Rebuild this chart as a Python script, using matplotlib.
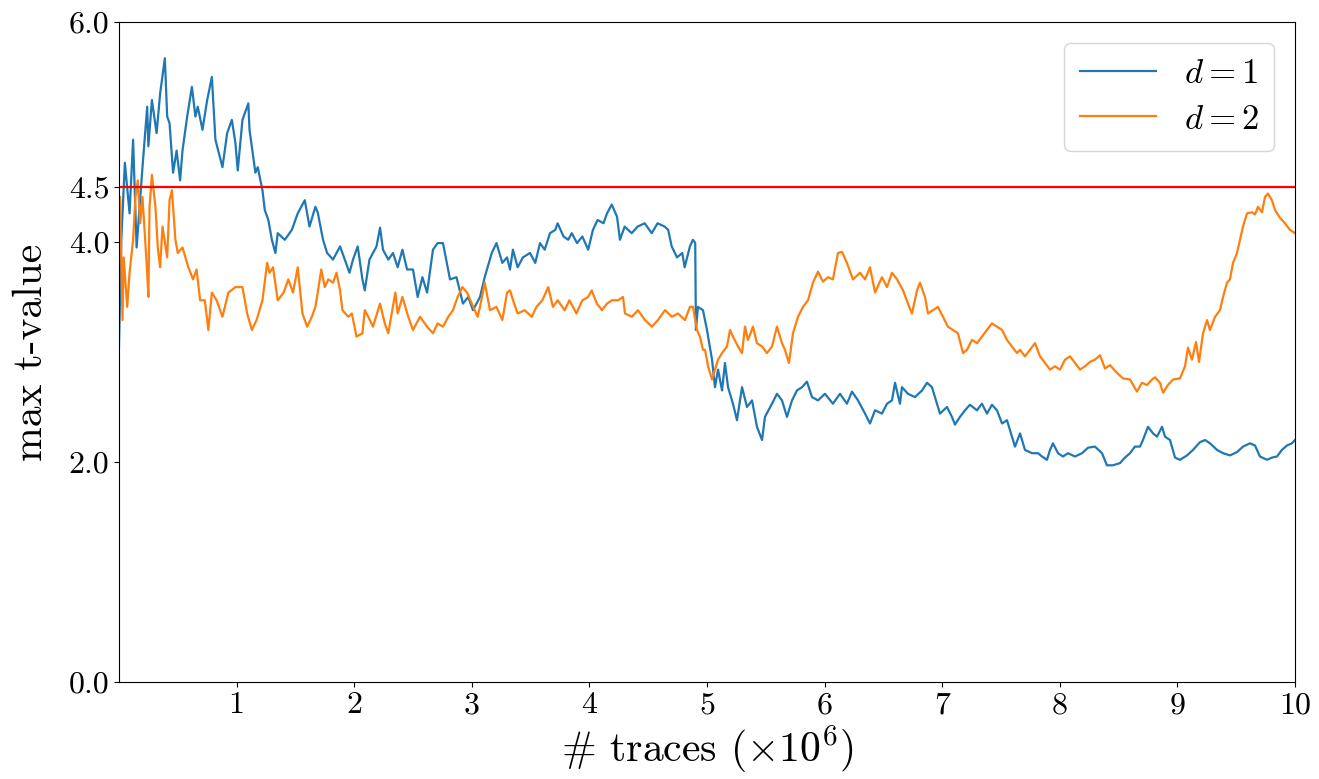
import matplotlib
matplotlib.use("Agg")
import matplotlib.pyplot as plt
from matplotlib.ticker import FormatStrFormatter

plt.rcParams["font.family"] = "serif"
plt.rcParams["font.serif"] = ["cmr10"]
plt.rcParams["mathtext.fontset"] = "cm"
plt.rcParams["axes.unicode_minus"] = False
plt.rcParams["axes.formatter.use_mathtext"] = True

# number of traces (x 10^6) and max t-value for first-order test (d = 1)
traces_d1 = [
    0.00, 0.02, 0.05, 0.09, 0.12, 0.15, 0.20, 0.24, 0.25, 0.28, 0.32, 0.35, 0.39, 0.41,
    0.43, 0.46, 0.49, 0.52, 0.54, 0.58, 0.62, 0.65, 0.67, 0.71, 0.75, 0.79, 0.82, 0.88,
    0.92, 0.96, 0.99, 1.01, 1.05, 1.10, 1.11, 1.16, 1.18, 1.22, 1.24, 1.27, 1.30, 1.33,
    1.35, 1.41, 1.47, 1.52, 1.58, 1.62, 1.67, 1.69, 1.735, 1.77, 1.82, 1.88, 1.92, 1.96,
    1.99, 2.03, 2.07, 2.09, 2.13, 2.19, 2.22, 2.245, 2.29, 2.33, 2.37, 2.41, 2.45, 2.50,
    2.54, 2.58, 2.62, 2.67, 2.71, 2.755, 2.815, 2.87, 2.925, 2.97, 3.01, 3.07, 3.11, 3.17,
    3.21, 3.26, 3.30, 3.325, 3.35, 3.39, 3.435, 3.495, 3.54, 3.58, 3.62, 3.665, 3.71, 3.73,
    3.78, 3.82, 3.85, 3.895, 3.94, 3.99, 4.03, 4.07, 4.12, 4.15, 4.19, 4.235, 4.26, 4.30,
    4.36, 4.41, 4.47, 4.53, 4.58, 4.64, 4.67, 4.70, 4.745, 4.79, 4.81, 4.855, 4.88, 4.900,
    4.906, 4.923, 4.966, 5.00, 5.043, 5.068, 5.094, 5.128, 5.153, 5.179, 5.221, 5.255,
    5.298, 5.34, 5.383, 5.425, 5.468, 5.493, 5.553, 5.595, 5.638, 5.68, 5.723, 5.765,
    5.808, 5.85, 5.893, 5.944, 6.003, 6.071, 6.131, 6.19, 6.233, 6.284, 6.344, 6.386,
    6.429, 6.488, 6.531, 6.573, 6.599, 6.641, 6.658, 6.709, 6.769, 6.828, 6.871, 6.913,
    6.956, 6.981, 7.041, 7.083, 7.109, 7.151, 7.194, 7.236, 7.296, 7.338, 7.381, 7.423,
    7.466, 7.509, 7.551, 7.594, 7.619, 7.662, 7.704, 7.764, 7.815, 7.849, 7.891, 7.917,
    7.942, 7.985, 8.027, 8.07, 8.129, 8.189, 8.24, 8.299, 8.359, 8.401, 8.452, 8.512,
    8.554, 8.597, 8.639, 8.682, 8.707, 8.75, 8.793, 8.827, 8.869, 8.895, 8.937, 8.98,
    9.022, 9.082, 9.133, 9.192, 9.235, 9.277, 9.337, 9.388, 9.447, 9.507, 9.558, 9.617,
    9.66, 9.702, 9.762, 9.804, 9.847, 9.889, 9.932, 9.974, 10.0,
]
tmax_d1 = [
    3.05, 4.02, 4.72, 4.26, 4.93, 3.95, 4.68, 5.23, 4.87, 5.29, 4.99, 5.35, 5.67, 5.14,
    5.08, 4.63, 4.83, 4.56, 4.83, 5.14, 5.41, 5.14, 5.23, 5.02, 5.29, 5.50, 4.93, 4.68,
    4.99, 5.11, 4.90, 4.65, 5.11, 5.26, 5.02, 4.63, 4.68, 4.47, 4.29, 4.20, 4.02, 3.90,
    4.08, 4.02, 4.11, 4.26, 4.38, 4.14, 4.32, 4.27, 4.02, 3.90, 3.84, 3.96, 3.84, 3.72,
    3.84, 3.96, 3.66, 3.56, 3.84, 3.96, 4.13, 3.93, 3.84, 3.90, 3.77, 3.93, 3.75, 3.75,
    3.50, 3.68, 3.54, 3.93, 3.99, 3.99, 3.66, 3.68, 3.44, 3.50, 3.38, 3.50, 3.68, 3.90,
    3.99, 3.81, 3.86, 3.75, 3.93, 3.77, 3.86, 3.90, 3.81, 3.99, 3.93, 4.08, 4.11, 4.17,
    4.05, 4.02, 4.08, 3.99, 4.05, 3.93, 4.11, 4.20, 4.17, 4.26, 4.34, 4.23, 4.02, 4.14,
    4.08, 4.14, 4.17, 4.08, 4.17, 4.14, 4.11, 3.96, 3.86, 3.90, 3.77, 3.96, 4.02, 3.99,
    3.20, 3.41, 3.38, 3.20, 2.93, 2.68, 2.84, 2.65, 2.90, 2.68, 2.53, 2.38,
    2.68, 2.50, 2.56, 2.32, 2.20, 2.41, 2.53, 2.62, 2.56, 2.41, 2.56, 2.65,
    2.68, 2.73, 2.59, 2.56, 2.62, 2.53, 2.62, 2.53, 2.64, 2.56, 2.44, 2.35,
    2.47, 2.44, 2.53, 2.56, 2.72, 2.53, 2.68, 2.62, 2.59, 2.65, 2.72, 2.68,
    2.53, 2.44, 2.50, 2.41, 2.34, 2.41, 2.47, 2.52, 2.47, 2.53, 2.44, 2.52,
    2.47, 2.35, 2.38, 2.23, 2.14, 2.26, 2.11, 2.08, 2.08, 2.05, 2.02, 2.11,
    2.17, 2.08, 2.05, 2.08, 2.05, 2.08, 2.13, 2.14, 2.08, 1.97, 1.97, 1.99,
    2.04, 2.08, 2.14, 2.14, 2.20, 2.32, 2.26, 2.23, 2.32, 2.23, 2.20, 2.04,
    2.02, 2.06, 2.11, 2.18, 2.20, 2.17, 2.11, 2.08, 2.06, 2.09, 2.14, 2.17,
    2.15, 2.05, 2.02, 2.04, 2.05, 2.11, 2.15, 2.17, 2.20,
]

# number of traces (x 10^6) and max t-value for second-order test (d = 2)
traces_d2 = [
    0.00, 0.01, 0.03, 0.04, 0.07, 0.09, 0.12, 0.14, 0.16, 0.18, 0.20, 0.24, 0.25, 0.26,
    0.28, 0.31, 0.33, 0.35, 0.37, 0.41, 0.43, 0.45, 0.48, 0.50, 0.54, 0.59, 0.63, 0.66,
    0.69, 0.73, 0.76, 0.79, 0.83, 0.88, 0.93, 0.99, 1.05, 1.09, 1.13, 1.17, 1.22, 1.26,
    1.28, 1.31, 1.35, 1.40, 1.44, 1.48, 1.52, 1.56, 1.60, 1.64, 1.67, 1.69, 1.72, 1.75,
    1.78, 1.82, 1.85, 1.88, 1.90, 1.95, 1.98, 2.02, 2.07, 2.09, 2.12, 2.16, 2.22, 2.26,
    2.29, 2.35, 2.37, 2.41, 2.46, 2.50, 2.56, 2.62, 2.67, 2.71, 2.755, 2.80, 2.84, 2.88,
    2.92, 2.96, 3.00, 3.05, 3.07, 3.11, 3.155, 3.21, 3.26, 3.30, 3.325, 3.36, 3.39, 3.45,
    3.51, 3.55, 3.60, 3.65, 3.69, 3.73, 3.79, 3.83, 3.89, 3.94, 3.99, 4.02, 4.064, 4.107,
    4.15, 4.192, 4.243, 4.286, 4.303, 4.362, 4.413, 4.473, 4.532, 4.583, 4.643, 4.702,
    4.753, 4.813, 4.855, 4.881, 4.915, 4.94, 4.966, 4.983, 5.009, 5.043, 5.068, 5.094,
    5.128, 5.17, 5.196, 5.221, 5.264, 5.298, 5.323, 5.349, 5.391, 5.425, 5.468, 5.51,
    5.553, 5.595, 5.638, 5.663, 5.697, 5.731, 5.774, 5.816, 5.859, 5.901, 5.944, 5.986,
    6.029, 6.071, 6.114, 6.148, 6.19, 6.241, 6.301, 6.344, 6.386, 6.429, 6.488, 6.531,
    6.573, 6.616, 6.667, 6.709, 6.743, 6.786, 6.811, 6.854, 6.879, 6.922, 6.964, 7.007,
    7.049, 7.092, 7.134, 7.177, 7.211, 7.253, 7.296, 7.338, 7.381, 7.423, 7.466, 7.509,
    7.551, 7.594, 7.636, 7.662, 7.704, 7.747, 7.789, 7.832, 7.874, 7.917, 7.959, 8.002,
    8.044, 8.087, 8.129, 8.172, 8.214, 8.257, 8.299, 8.342, 8.384, 8.427, 8.486, 8.537,
    8.597, 8.656, 8.699, 8.741, 8.784, 8.81, 8.852, 8.878, 8.92, 8.963, 9.022, 9.065,
    9.09, 9.124, 9.158, 9.184, 9.218, 9.252, 9.277, 9.32, 9.362, 9.388, 9.422, 9.447,
    9.473, 9.507, 9.532, 9.558, 9.592, 9.634, 9.66, 9.685, 9.719, 9.745, 9.77, 9.804,
    9.83, 9.872, 9.915, 9.957, 10.0,
]
tmax_d2 = [
    3.90, 4.41, 3.29, 3.86, 3.41, 3.72, 4.02, 4.41, 4.56, 4.17, 4.41, 3.72, 3.50, 4.32,
    4.61, 4.32, 3.95, 3.77, 4.14, 3.86, 4.38, 4.47, 4.02, 3.90, 3.95, 3.77, 3.66, 3.75,
    3.47, 3.47, 3.20, 3.54, 3.47, 3.32, 3.54, 3.59, 3.59, 3.35, 3.20, 3.29, 3.47, 3.81,
    3.72, 3.77, 3.47, 3.54, 3.66, 3.54, 3.77, 3.35, 3.23, 3.32, 3.41, 3.54, 3.75, 3.59,
    3.66, 3.63, 3.72, 3.56, 3.38, 3.32, 3.35, 3.14, 3.17, 3.38, 3.32, 3.23, 3.44, 3.26,
    3.17, 3.54, 3.35, 3.50, 3.32, 3.20, 3.32, 3.23, 3.17, 3.26, 3.23, 3.32, 3.38, 3.50,
    3.59, 3.54, 3.44, 3.32, 3.41, 3.63, 3.38, 3.41, 3.29, 3.54, 3.56, 3.44, 3.35, 3.38,
    3.32, 3.41, 3.47, 3.59, 3.41, 3.47, 3.38, 3.47, 3.35, 3.47, 3.50, 3.56, 3.44, 3.38,
    3.44, 3.47, 3.47, 3.50, 3.35, 3.32, 3.38, 3.29, 3.23, 3.29, 3.38, 3.32,
    3.35, 3.29, 3.41, 3.41, 3.20, 3.14, 3.02, 3.02, 2.87, 2.75, 2.84, 2.93,
    2.99, 3.05, 3.20, 3.14, 3.05, 2.99, 3.23, 3.11, 3.23, 3.08, 3.05, 2.99,
    3.05, 3.23, 3.08, 3.02, 2.90, 3.17, 3.32, 3.41, 3.47, 3.63, 3.73, 3.64,
    3.68, 3.66, 3.90, 3.91, 3.81, 3.66, 3.72, 3.66, 3.77, 3.54, 3.68, 3.59,
    3.72, 3.66, 3.56, 3.44, 3.35, 3.56, 3.63, 3.50, 3.35, 3.38, 3.41, 3.32,
    3.23, 3.20, 3.17, 2.99, 3.02, 3.11, 3.08, 3.14, 3.20, 3.26, 3.23, 3.20,
    3.11, 3.05, 2.99, 3.02, 2.96, 3.02, 3.08, 2.96, 2.90, 2.84, 2.87, 2.84,
    2.93, 2.96, 2.90, 2.84, 2.87, 2.91, 2.93, 2.97, 2.85, 2.88, 2.81, 2.76,
    2.75, 2.64, 2.72, 2.70, 2.75, 2.77, 2.72, 2.63, 2.70, 2.75, 2.76, 2.87,
    3.04, 2.93, 3.09, 2.91, 3.17, 3.29, 3.20, 3.32, 3.38, 3.50, 3.63, 3.66,
    3.81, 3.90, 4.02, 4.14, 4.26, 4.27, 4.25, 4.32, 4.27, 4.41, 4.44, 4.38,
    4.29, 4.22, 4.17, 4.11, 4.08,
]

threshold = 4.5
x_ticks = [1, 2, 3, 4, 5, 6, 7, 8, 9, 10]
y_ticks = [0.0, 2.0, 4.0, 4.5, 6.0]

fig = plt.figure(figsize=(13.19, 7.79), dpi=100)
ax = fig.add_axes([0.0902, 0.1245, 0.8916, 0.8473])

ax.plot(traces_d1, tmax_d1, color="#1f77b4", lw=1.6, label="$d=1$")
ax.plot(traces_d2, tmax_d2, color="#ff7f0e", lw=1.6, label="$d=2$")
ax.axhline(threshold, color="red", lw=1.6)

ax.set_xlim(0, 10)
ax.set_ylim(0, 6)
ax.set_xticks(x_ticks)
ax.set_yticks(y_ticks)
ax.yaxis.set_major_formatter(FormatStrFormatter("%.1f"))
ax.xaxis.set_major_formatter(FormatStrFormatter("%d"))
ax.tick_params(labelsize=23)

ax.set_xlabel(r"# traces ($\times 10^6$)", fontsize=30, labelpad=3)
ax.set_ylabel("max t-value", fontsize=30, labelpad=13)

ax.legend(loc="upper right", fontsize=25, handlelength=2.2, handletextpad=0.8,
          borderpad=0.45, labelspacing=0.4, borderaxespad=0.6, framealpha=0.8)

fig.savefig("out.png", dpi=100)
